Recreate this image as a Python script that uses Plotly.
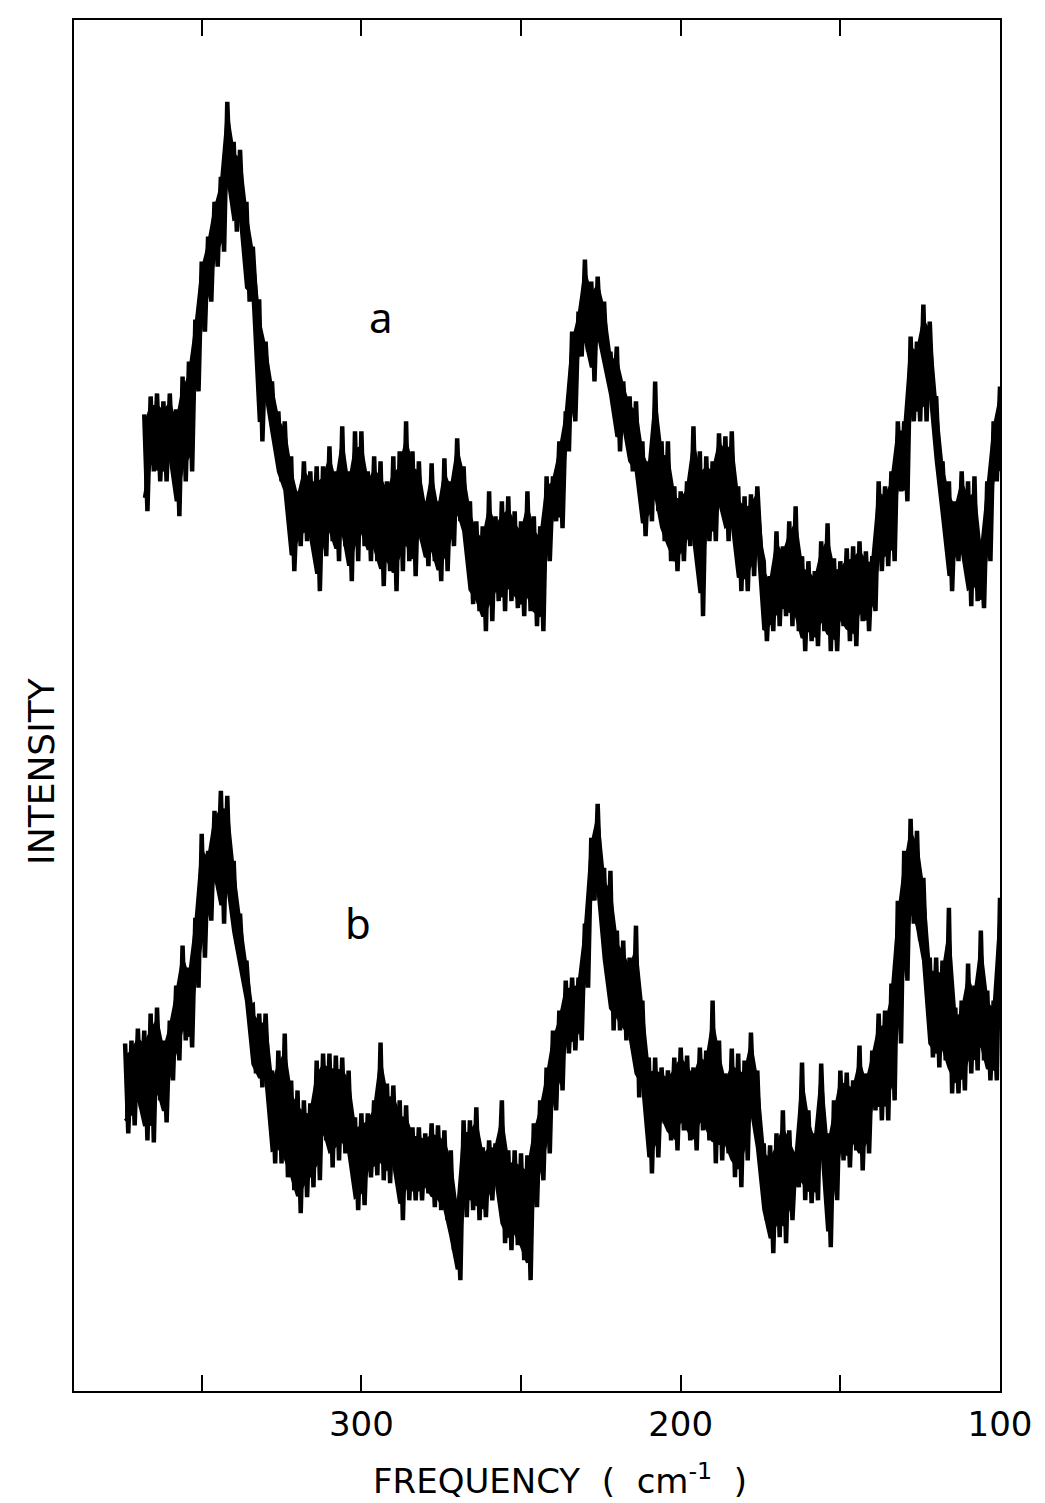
import plotly.graph_objects as go

# Frequency grids (cm^-1), 2 cm^-1 steps
freq_a = list(range(368, 98, -2))
freq_b = list(range(374, 98, -2))

# Spectrum a: upper / lower extent of the noisy trace at each frequency (arb. units)
a_hi = [98.7, 100.5, 100.8, 100.0, 100.8, 99.2, 102.5, 104.0, 108.2, 114.0,
        116.5, 120.0, 122.5, 130.0, 126.0, 125.2, 120.0, 115.5, 110.0, 106.0,
        102.0, 99.0, 98.0, 94.5, 91.0, 94.0, 93.0, 93.5, 93.5, 95.5,
        93.0, 97.5, 93.0, 97.0, 97.0, 93.0, 94.5, 94.0, 92.0, 94.5,
        95.0, 98.0, 95.0, 94.0, 90.0, 93.8, 90.0, 94.3, 92.0, 96.3,
        93.5, 90.0, 88.0, 87.5, 91.0, 88.5, 90.0, 90.5, 89.0, 88.0,
        91.0, 88.5, 87.5, 92.5, 92.5, 96.0, 99.0, 107.0, 109.0, 114.2,
        112.0, 112.5, 110.0, 105.0, 105.5, 102.0, 100.5, 100.0, 96.0, 94.0,
        102.0, 96.0, 96.0, 91.5, 91.0, 92.0, 97.5, 95.0, 94.5, 94.0,
        96.8, 96.5, 97.0, 91.5, 90.5, 90.7, 91.5, 84.0, 82.5, 87.0,
        85.5, 88.0, 89.5, 84.5, 84.0, 83.0, 86.0, 87.8, 84.3, 84.0,
        85.3, 85.5, 86.0, 85.0, 84.5, 92.0, 91.5, 93.0, 98.0, 98.0,
        106.5, 106.0, 109.7, 108.0, 100.5, 94.0, 92.0, 90.0, 93.0, 92.0,
        92.5, 85.5, 92.0, 98.0, 101.5]
a_lo = [89.0, 93.0, 92.0, 92.0, 93.5, 88.5, 92.0, 93.0, 101.0, 107.0,
        110.0, 113.5, 115.0, 121.5, 117.0, 117.5, 110.0, 110.0, 96.0, 100.0,
        96.0, 92.0, 90.0, 83.0, 85.5, 86.0, 85.5, 81.0, 84.5, 86.0,
        84.0, 85.5, 82.0, 84.0, 85.5, 84.0, 84.0, 81.5, 83.0, 81.0,
        83.0, 84.0, 82.5, 86.0, 83.5, 84.0, 82.0, 83.0, 85.5, 88.0,
        86.0, 79.7, 79.0, 77.0, 78.0, 80.0, 79.0, 80.0, 79.3, 78.5,
        79.0, 77.5, 77.0, 84.0, 88.0, 87.3, 95.0, 98.0, 104.5, 105.0,
        102.0, 106.0, 103.0, 100.0, 95.0, 97.0, 93.0, 92.0, 86.5, 88.0,
        89.0, 86.0, 84.0, 83.0, 84.0, 85.5, 84.5, 78.5, 86.0, 86.0,
        89.0, 86.0, 86.5, 81.0, 81.0, 82.5, 85.5, 76.0, 77.0, 77.5,
        78.5, 77.5, 77.0, 75.0, 76.0, 75.5, 77.0, 75.0, 75.0, 77.5,
        76.0, 75.5, 78.0, 77.0, 79.0, 83.0, 83.5, 84.0, 91.0, 90.0,
        98.0, 98.0, 98.0, 100.0, 93.0, 87.5, 81.0, 84.0, 84.0, 79.5,
        80.0, 79.3, 84.0, 92.0, 93.0]

# Spectrum b
b_hi = [35.7, 36.0, 37.2, 37.0, 38.7, 39.3, 36.0, 38.0, 41.5, 45.5,
        43.3, 48.3, 56.7, 55.0, 59.0, 61.0, 60.5, 54.0, 48.7, 44.0,
        39.5, 38.7, 38.7, 33.0, 35.0, 36.7, 32.0, 31.0, 30.0, 29.7,
        34.0, 34.7, 34.7, 34.5, 34.3, 33.0, 28.3, 28.7, 28.7, 30.0,
        35.8, 31.7, 31.5, 30.0, 29.5, 27.3, 27.3, 26.7, 27.7, 27.5,
        27.0, 25.0, 19.7, 28.0, 28.0, 29.3, 25.3, 26.0, 25.7, 30.0,
        25.0, 25.0, 24.7, 24.5, 27.7, 30.0, 33.3, 37.0, 39.0, 42.0,
        42.3, 42.3, 47.7, 56.3, 59.7, 53.3, 53.0, 47.0, 46.0, 44.3,
        47.5, 40.0, 34.3, 34.3, 33.3, 33.0, 34.3, 35.3, 34.5, 33.3,
        35.3, 35.0, 40.0, 36.0, 32.7, 35.2, 34.7, 34.0, 36.8, 33.0,
        25.7, 25.5, 26.7, 29.0, 27.0, 24.7, 33.8, 29.0, 26.7, 33.7,
        26.7, 30.0, 33.0, 32.8, 32.0, 35.5, 32.7, 35.0, 38.7, 39.0,
        41.7, 50.0, 55.0, 58.2, 57.0, 52.3, 44.3, 44.3, 44.0, 49.3,
        39.3, 40.0, 43.7, 41.5, 47.0, 41.0, 40.0, 50.3]
b_lo = [26.7, 27.5, 29.3, 26.0, 25.8, 30.0, 27.8, 32.0, 34.0, 36.0,
        35.3, 41.3, 44.3, 48.0, 51.7, 47.7, 50.3, 45.7, 42.7, 39.3,
        32.7, 31.3, 31.3, 23.7, 23.7, 22.3, 21.0, 18.7, 20.3, 21.3,
        22.0, 26.0, 23.3, 24.0, 24.7, 23.5, 19.0, 19.5, 22.3, 22.5,
        22.0, 21.7, 22.5, 18.0, 20.0, 20.0, 20.0, 20.7, 19.3, 19.0,
        18.0, 15.0, 12.0, 18.3, 19.0, 18.0, 18.3, 20.0, 21.7, 15.7,
        15.0, 15.5, 14.0, 12.0, 19.3, 22.0, 24.7, 29.0, 31.0, 34.7,
        35.0, 36.0, 41.3, 50.0, 50.0, 42.7, 37.0, 37.0, 36.0, 35.3,
        30.3, 30.3, 22.7, 24.3, 27.7, 26.0, 25.0, 27.0, 26.0, 25.0,
        27.0, 26.0, 23.7, 24.0, 24.7, 22.3, 21.3, 24.0, 28.0, 24.0,
        18.0, 14.7, 16.3, 15.7, 18.0, 21.3, 20.0, 19.7, 20.0, 24.7,
        15.3, 20.0, 24.0, 23.3, 25.0, 23.0, 24.7, 29.0, 28.0, 28.0,
        30.0, 35.7, 42.0, 47.7, 46.0, 42.7, 34.3, 33.3, 34.0, 30.7,
        30.7, 31.0, 32.7, 33.0, 34.0, 32.0, 32.0, 37.3]

major_ticks = [300, 200, 100]
major_text = ["300", "200", "100"]
minor_ticks = [350, 250, 150]


def zigzag(freq, hi, lo):
    xs, ys = [], []
    n = len(freq)
    for i in range(n):
        nxt = freq[i + 1] if i + 1 < n else freq[i]
        xs += [freq[i], (freq[i] + nxt) / 2]
        ys += [hi[i], lo[i]]
    return xs, ys


def core_band(freq, hi, lo, frac=0.14):
    up = [l + (h - l) * (1 - frac) for h, l in zip(hi, lo)]
    dn = [l + (h - l) * frac for h, l in zip(hi, lo)]
    return list(freq) + list(freq)[::-1], up + dn[::-1]


fig = go.Figure()
for fr, hi, lo in [(freq_a, a_hi, a_lo), (freq_b, b_hi, b_lo)]:
    bx, by = core_band(fr, hi, lo)
    fig.add_trace(go.Scatter(x=bx, y=by, mode="lines", fill="toself",
                             fillcolor="black", line=dict(color="black", width=3),
                             showlegend=False, hoverinfo="skip"))
    xs, ys = zigzag(fr, hi, lo)
    fig.add_trace(go.Scatter(x=xs, y=ys, mode="lines",
                             line=dict(color="black", width=4.5),
                             showlegend=False, hoverinfo="skip"))

font_main = "DejaVu Sans, sans-serif"

fig.add_annotation(x=294, y=108.5, text="a", showarrow=False,
                   font=dict(size=42, color="black", family="Noto Sans"))
fig.add_annotation(x=301, y=47.8, text="b", showarrow=False,
                   font=dict(size=42, color="black", family="Noto Sans"))

fig.add_annotation(xref="paper", yref="paper", x=0.525, y=-0.064,
                   text="FREQUENCY  (  cm<sup>-1</sup>  )", showarrow=False,
                   xanchor="center", yanchor="middle",
                   font=dict(size=34, color="black", family=font_main))
fig.add_annotation(xref="paper", yref="paper", x=-0.035, y=0.452,
                   text="INTENSITY", showarrow=False, textangle=-90,
                   xanchor="center", yanchor="middle",
                   font=dict(size=36, color="black", family=font_main))

fig.update_layout(
    width=1045, height=1503,
    margin=dict(l=66, r=53, t=10, b=120),
    paper_bgcolor="white", plot_bgcolor="white",
    xaxis=dict(range=[390, 100], tickvals=major_ticks, ticktext=major_text,
               ticks="inside", ticklen=16, tickwidth=2, tickcolor="black",
               minor=dict(tickvals=minor_ticks, ticks="inside", ticklen=16,
                          tickwidth=2, tickcolor="black"),
               showline=True, linecolor="black", linewidth=2, mirror="ticks",
               showgrid=False, zeroline=False, ticklabelstandoff=2,
               tickfont=dict(size=34, color="black", family=font_main)),
    yaxis=dict(range=[0.9, 138.2], showticklabels=False, ticks="",
               showline=True, linecolor="black", linewidth=2, mirror=True,
               showgrid=False, zeroline=False),
)

fig.write_html("out.html")
